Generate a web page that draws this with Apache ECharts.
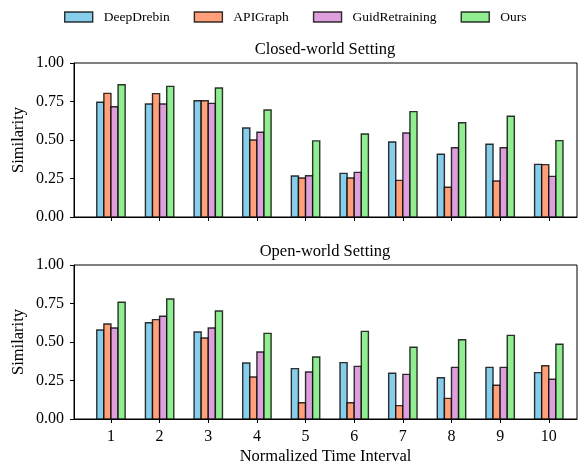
<!DOCTYPE html>
<html>
<head>
<meta charset="UTF-8">
<title>Similarity</title>
<script src="https://cdn.jsdelivr.net/npm/echarts@6/dist/echarts.min.js"></script>
<style>
body { margin: 0; padding: 0; background: #fff; }
#main { width: 583px; height: 467px; }
</style>
</head>
<body>
<div id="main"></div>
<script>
var intervals = [1, 2, 3, 4, 5, 6, 7, 8, 9, 10];
var methods = ['DeepDrebin', 'APIGraph', 'GuidRetraining', 'Ours'];
var colors = ['#87CEEB', '#FFA07A', '#DDA0DD', '#90EE90'];

// closed-world
var closedDeepDrebin = [0.745, 0.734, 0.755, 0.578, 0.266, 0.283, 0.487, 0.407, 0.472, 0.342];
var closedAPIGraph = [0.803, 0.801, 0.755, 0.500, 0.253, 0.253, 0.238, 0.193, 0.234, 0.340];
var closedGuid = [0.716, 0.734, 0.738, 0.550, 0.268, 0.290, 0.545, 0.450, 0.450, 0.264];
var closedOurs = [0.859, 0.848, 0.838, 0.695, 0.494, 0.539, 0.684, 0.612, 0.654, 0.496];

// open-world
var openDeepDrebin = [0.578, 0.625, 0.565, 0.364, 0.327, 0.366, 0.297, 0.268, 0.335, 0.301];
var openAPIGraph = [0.617, 0.645, 0.526, 0.273, 0.106, 0.106, 0.087, 0.134, 0.219, 0.346];
var openGuid = [0.591, 0.667, 0.591, 0.435, 0.305, 0.342, 0.290, 0.335, 0.335, 0.258];
var openOurs = [0.758, 0.779, 0.701, 0.556, 0.403, 0.569, 0.466, 0.515, 0.543, 0.485];

var closedSets = [closedDeepDrebin, closedAPIGraph, closedGuid, closedOurs];
var openSets = [openDeepDrebin, openAPIGraph, openGuid, openOurs];

var font = 'Liberation Serif';
var xMin = 0.24, xMax = 10.58;
var plotW = 503;
var barPx = 7.1;
var edge = 'rgba(0,0,0,0.8)';

var chart = echarts.init(document.getElementById('main'));

function xAxisFor(idx, showLabels) {
    return {
        type: 'value', gridIndex: idx, min: xMin, max: xMax,
        name: showLabels ? 'Normalized Time Interval' : '',
        nameLocation: 'middle', nameGap: 29,
        nameTextStyle: { fontFamily: font, fontSize: 16.5, color: '#000' },
        axisLine: { show: true, onZero: false, lineStyle: { color: '#000', width: 1 } },
        axisTick: { show: true, inside: false, length: 4, customValues: intervals, lineStyle: { color: '#000' } },
        axisLabel: { show: showLabels, customValues: intervals, fontFamily: font, fontSize: 16, color: '#000', margin: 10 },
        splitLine: { show: false }
    };
}

function yAxisFor(idx) {
    return {
        type: 'value', gridIndex: idx, min: 0, max: 1, interval: 0.25,
        name: 'Similarity', nameLocation: 'middle', nameGap: 47, nameMoveOverlap: false,
        nameTextStyle: { fontFamily: font, fontSize: 16.5, color: '#000' },
        axisLine: { show: true, lineStyle: { color: '#000', width: 1 } },
        axisTick: { show: true, inside: false, length: 4, lineStyle: { color: '#000' } },
        axisLabel: { fontFamily: font, fontSize: 16, color: '#000', margin: 10,
            formatter: function (v) { return v.toFixed(2); } },
        splitLine: { show: false }
    };
}

// grouped bars: each method sits at its own slot around the interval tick
function barRenderer(k) {
    return function (params, api) {
        var top = api.coord([api.value(0), api.value(1)]);
        var base = api.coord([api.value(0), 0]);
        return {
            type: 'rect',
            shape: { x: base[0] + (k - 2) * barPx, y: top[1], width: barPx, height: base[1] - top[1] },
            style: { fill: colors[k], stroke: edge, lineWidth: 1.4 }
        };
    };
}

var series = [];
[closedSets, openSets].forEach(function (sets, g) {
    sets.forEach(function (vals, k) {
        series.push({
            name: methods[k], type: 'custom',
            xAxisIndex: g, yAxisIndex: g,
            renderItem: barRenderer(k),
            itemStyle: { color: colors[k], borderColor: edge, borderWidth: 1.4 },
            encode: { x: 0, y: 1 },
            data: vals.map(function (v, i) { return [intervals[i], v]; })
        });
    });
});

var option = {
    animation: false,
    backgroundColor: '#fff',
    legend: {
        data: methods.map(function (m, k) {
            return { name: m, icon: 'rect', itemStyle: { color: colors[k], borderColor: edge, borderWidth: 1.4 } };
        }),
        top: 10, left: 64, padding: 0,
        itemWidth: 28, itemHeight: 10, itemGap: 24,
        textStyle: { fontFamily: font, fontSize: 13.5, color: '#000', padding: [0, 0, 0, 6] }
    },
    title: [
        { text: 'Closed-world Setting', left: 325, top: 41, textAlign: 'center', padding: 0,
          textStyle: { fontFamily: font, fontSize: 16.5, fontWeight: 'normal', color: '#000' } },
        { text: 'Open-world Setting', left: 325, top: 243, textAlign: 'center', padding: 0,
          textStyle: { fontFamily: font, fontSize: 16.5, fontWeight: 'normal', color: '#000' } }
    ],
    grid: [
        { left: 74, top: 63, width: plotW, height: 154, show: true, borderColor: '#000', borderWidth: 1 },
        { left: 74, top: 265, width: plotW, height: 154, show: true, borderColor: '#000', borderWidth: 1 }
    ],
    xAxis: [xAxisFor(0, false), xAxisFor(1, true)],
    yAxis: [yAxisFor(0), yAxisFor(1)],
    series: series
};
chart.setOption(option);
</script>
</body>
</html>
